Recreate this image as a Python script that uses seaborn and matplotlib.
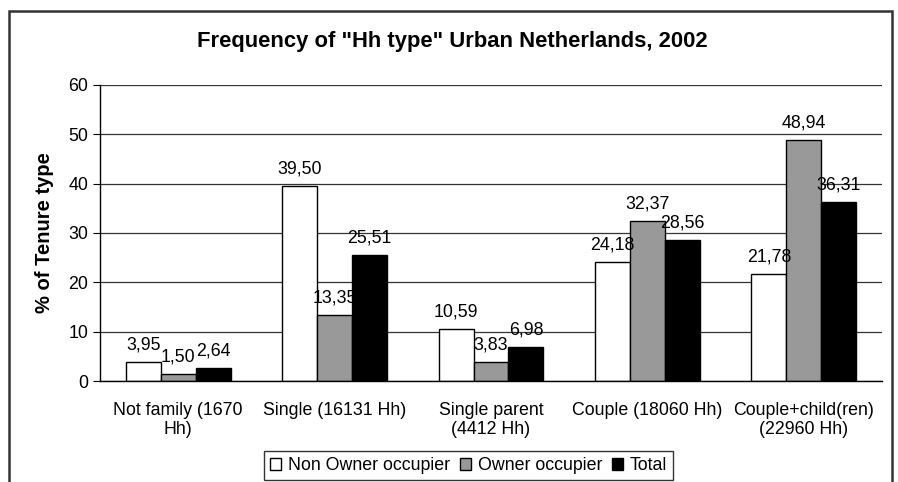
import numpy as np
import matplotlib.pyplot as plt
import matplotlib.patches as mpatches
import pandas as pd
import seaborn as sns

# values
categories = ["Not family (1670\nHh)", "Single (16131 Hh)", "Single parent\n(4412 Hh)",
              "Couple (18060 Hh)", "Couple+child(ren)\n(22960 Hh)"]
non_owner = [3.95, 39.50, 10.59, 24.18, 21.78]
owner = [1.50, 13.35, 3.83, 32.37, 48.94]
total = [2.64, 25.51, 6.98, 28.56, 36.31]
series = ["Non Owner occupier", "Owner occupier", "Total"]
colors = ["white", "#999999", "black"]

df = pd.DataFrame({
    "cat": categories * 3,
    "tenure": [s for s in series for _ in categories],
    "pct": non_owner + owner + total,
})

sns.set_style("white")
plt.rcParams['font.family'] = ['Liberation Sans', 'DejaVu Sans']
plt.rcParams['text.color'] = "black"
plt.rcParams['axes.labelcolor'] = "black"
plt.rcParams['xtick.color'] = "black"
plt.rcParams['ytick.color'] = "black"

fs = 12.8

fig = plt.figure(figsize=(8.98, 4.82), dpi=100)
ax = fig.add_axes([100/898, 1-381/482, 782/898, 296/482])

sns.barplot(data=df, x="cat", y="pct", hue="tenure", palette=colors, width=0.67,
            edgecolor="black", linewidth=1, saturation=1, ax=ax, legend=True)

# data labels with decimal comma
for cont, vals in zip(ax.containers, [non_owner, owner, total]):
    ax.bar_label(cont, labels=[f"{v:.2f}".replace(".", ",") for v in vals],
                 padding=6, fontsize=fs)

ax.set_ylim(0, 60)
ax.set_xlim(-0.5, 4.5)
ax.set_yticks(range(0, 61, 10))
ax.yaxis.grid(True, color="#333333", linewidth=0.9)
ax.set_axisbelow(True)
for s in ["top", "right"]:
    ax.spines[s].set_visible(False)
for s in ["left", "bottom"]:
    ax.spines[s].set_color("black")
    ax.spines[s].set_linewidth(1)

ax.set_xlabel("")
ax.set_ylabel("% of Tenure type", fontsize=14.5, fontweight="bold", labelpad=10)
ax.tick_params(axis="x", which="major", length=0, pad=15, labelsize=fs)
for t in ax.get_xticklabels():
    t.set_linespacing(1.15)
ax.set_xticks(np.arange(-0.5, 5, 1), minor=True)
ax.tick_params(axis="x", which="minor", length=5, direction="out", color="black")
ax.tick_params(axis="y", length=5, direction="out", color="black", labelsize=fs, left=True)

# title is centred on the whole chart, not on the plot area
fig.text(452/898, 1-42/482, 'Frequency of "Hh type" Urban Netherlands, 2002',
         fontsize=15.8, fontweight="bold", ha="center", va="center")

handles, labels = ax.get_legend_handles_labels()
ax.get_legend().remove()
leg = fig.legend(handles, labels, loc="upper left", bbox_to_anchor=(264/898, 1-451/482),
                 ncol=3, frameon=True, fancybox=False, fontsize=fs,
                 handlelength=0.6, handleheight=0.6, handletextpad=0.4,
                 columnspacing=0.55, borderpad=0.35, borderaxespad=0)
leg.get_frame().set_edgecolor("black")
leg.get_frame().set_linewidth(1)

# outer chart frame
fig.patches.append(mpatches.Rectangle((9/898, -0.05), 883/898, 1.05-11/482,
                                      transform=fig.transFigure, fill=False,
                                      edgecolor="#333333", linewidth=1.8))

fig.savefig("out.png", dpi=100)
